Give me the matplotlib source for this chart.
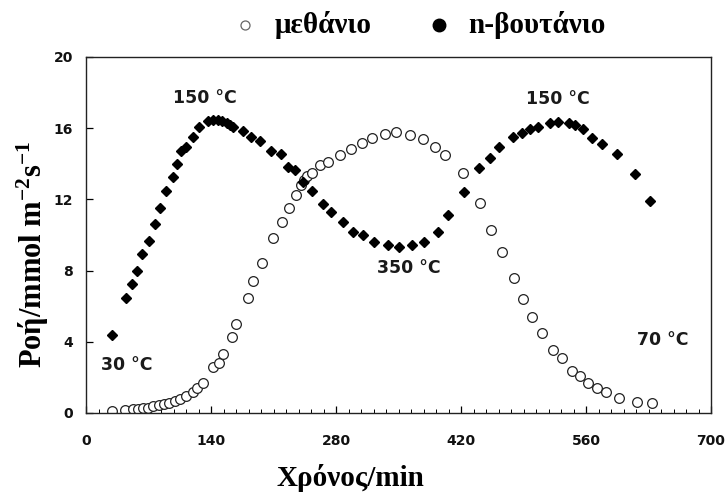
import matplotlib
matplotlib.use("Agg")
import matplotlib.pyplot as plt
from matplotlib.lines import Line2D
from matplotlib.ticker import MultipleLocator

plt.rcParams['mathtext.fontset'] = 'custom'
plt.rcParams['mathtext.rm'] = 'Liberation Serif:bold'
plt.rcParams['mathtext.bf'] = 'Liberation Serif:bold'
plt.rcParams['mathtext.it'] = 'Liberation Serif:bold'

# n-butane (filled diamonds)
butane_t = [28.7, 44.4, 51.1, 57.5, 62.7, 70.2, 76.9, 82.5, 90.0, 97.8, 101.9, 106.0,
            111.6, 119.8, 126.9, 136.6, 142.5, 148.2, 151.9, 157.5, 161.2, 164.9,
            176.2, 184.4, 194.8, 207.2, 218.7, 226.6, 234.0, 242.6, 252.7, 265.0,
            274.4, 287.8, 299.4, 309.8, 322.5, 338.5, 350.0, 365.4, 378.9, 393.8,
            405.7, 423.3, 440.1, 452.4, 462.8, 477.8, 487.9, 497.2, 506.5, 519.6,
            528.9, 540.9, 547.6, 556.2, 567.0, 577.5, 594.3, 614.8, 631.6]
butane_flux = [4.4, 6.45, 7.23, 8.0, 8.93, 9.66, 10.6, 11.5, 12.45, 13.26, 13.99, 14.72,
               14.94, 15.49, 16.05, 16.4, 16.45, 16.45, 16.4, 16.3, 16.2, 16.05,
               15.86, 15.49, 15.3, 14.72, 14.53, 13.84, 13.65, 13.0, 12.47, 11.74,
               11.31, 10.75, 10.19, 9.98, 9.62, 9.46, 9.3, 9.44, 9.62, 10.19,
               11.12, 12.43, 13.78, 14.31, 14.96, 15.49, 15.75, 15.96, 16.09, 16.27,
               16.37, 16.27, 16.18, 15.96, 15.47, 15.1, 14.55, 13.45, 11.9]

# methane (open circles)
methane_t = [29.5, 43.7, 53.0, 58.6, 64.2, 69.8, 75.4, 81.7, 87.3, 93.3, 99.7, 105.3,
             112.0, 119.5, 124.7, 131.4, 141.8, 148.6, 153.0, 163.1, 168.0, 181.0,
             186.7, 196.7, 209.0, 219.1, 227.3, 235.2, 240.4, 244.1, 248.0, 253.4,
             262.0, 271.4, 284.4, 296.4, 308.7, 320.6, 334.8, 347.5, 362.8, 377.0,
             390.8, 402.0, 421.8, 441.2, 453.5, 465.5, 479.3, 489.7, 499.8, 511.0,
             522.6, 532.6, 544.6, 553.2, 562.5, 571.9, 582.3, 597.3, 616.6, 633.5]
methane_flux = [0.13, 0.17, 0.2, 0.23, 0.27, 0.3, 0.38, 0.43, 0.49, 0.56, 0.67, 0.8,
                0.93, 1.17, 1.42, 1.7, 2.6, 2.79, 3.31, 4.29, 5.0, 6.44,
                7.42, 8.41, 9.81, 10.75, 11.5, 12.25, 12.81, 13.09, 13.3, 13.5,
                13.93, 14.12, 14.49, 14.83, 15.15, 15.43, 15.66, 15.8, 15.62, 15.37,
                14.93, 14.49, 13.5, 11.78, 10.28, 9.06, 7.57, 6.39, 5.41, 4.48,
                3.54, 3.07, 2.38, 2.08, 1.67, 1.39, 1.2, 0.82, 0.63, 0.58]

x_ticks = [0, 140, 280, 420, 560, 700]
y_ticks = [0, 4, 8, 12, 16, 20]

annotations = [("150 °C", 133, 17.7), ("150 °C", 528, 17.65), ("30 °C", 45.5, 2.7),
               ("350 °C", 362, 8.15), ("70 °C", 646, 4.1)]

W, H = 728, 494
fig = plt.figure(figsize=(W / 100, H / 100), dpi=100)
ax = fig.add_axes([86 / W, 1 - 413 / H, 625 / W, 356 / H])

ax.plot(methane_t, methane_flux, linestyle='none', marker='o', markersize=7,
        markerfacecolor='white', markeredgecolor='#222222', markeredgewidth=0.9)
ax.plot(butane_t, butane_flux, linestyle='none', marker='D', markersize=5.5,
        markerfacecolor='black', markeredgecolor='black')

ax.set_xlim(0, 700)
ax.set_ylim(0, 20)
ax.set_xticks(x_ticks)
ax.set_yticks(y_ticks)
ax.xaxis.set_minor_locator(MultipleLocator(14))
ax.tick_params(axis='both', which='major', direction='in', length=5, width=0.9,
               labelsize=10)
ax.tick_params(axis='x', which='major', pad=15)
ax.tick_params(axis='y', which='major', pad=9.5)
ax.tick_params(axis='x', which='minor', direction='in', length=3, width=0.7)
for lab in ax.get_xticklabels() + ax.get_yticklabels():
    lab.set_fontfamily('DejaVu Sans')
    lab.set_fontweight('bold')
    lab.set_color('#111111')
for s in ax.spines.values():
    s.set_linewidth(1.0)
    s.set_color('#222222')

for txt, x, y in annotations:
    ax.text(x, y, txt, ha='center', va='center', fontsize=12.5,
            family='DejaVu Sans', fontweight='bold', color='#1a1a1a')

# axis titles
fig.text(350 / W, 1 - 478 / H, 'Χρόνος/min', family='Liberation Serif',
         fontweight='bold', fontsize=21, ha='center', va='center')
fig.text(33 / W, 1 - 254 / H, 'Ροή/mmol m$^{-2}$s$^{-1}$', family='Liberation Serif',
         fontweight='bold', fontsize=22, ha='center', va='center', rotation=90)

# legend row above the plot
ly = 1 - 25 / H
fig.add_artist(Line2D([245 / W], [ly], transform=fig.transFigure,
                      marker='o', markersize=6.5, markerfacecolor='white',
                      markeredgecolor='#666666', markeredgewidth=0.9, linestyle='none'))
fig.text(275 / W, ly, 'μεθάνιο', family='Liberation Serif',
         fontweight='bold', fontsize=21, ha='left', va='center')
fig.add_artist(Line2D([439 / W], [ly], transform=fig.transFigure,
                      marker='o', markersize=9, markerfacecolor='black',
                      markeredgecolor='black', linestyle='none'))
fig.text(468 / W, ly, 'n-βουτάνιο', family='Liberation Serif',
         fontweight='bold', fontsize=21, ha='left', va='center')

fig.savefig('out.png', dpi=100)
